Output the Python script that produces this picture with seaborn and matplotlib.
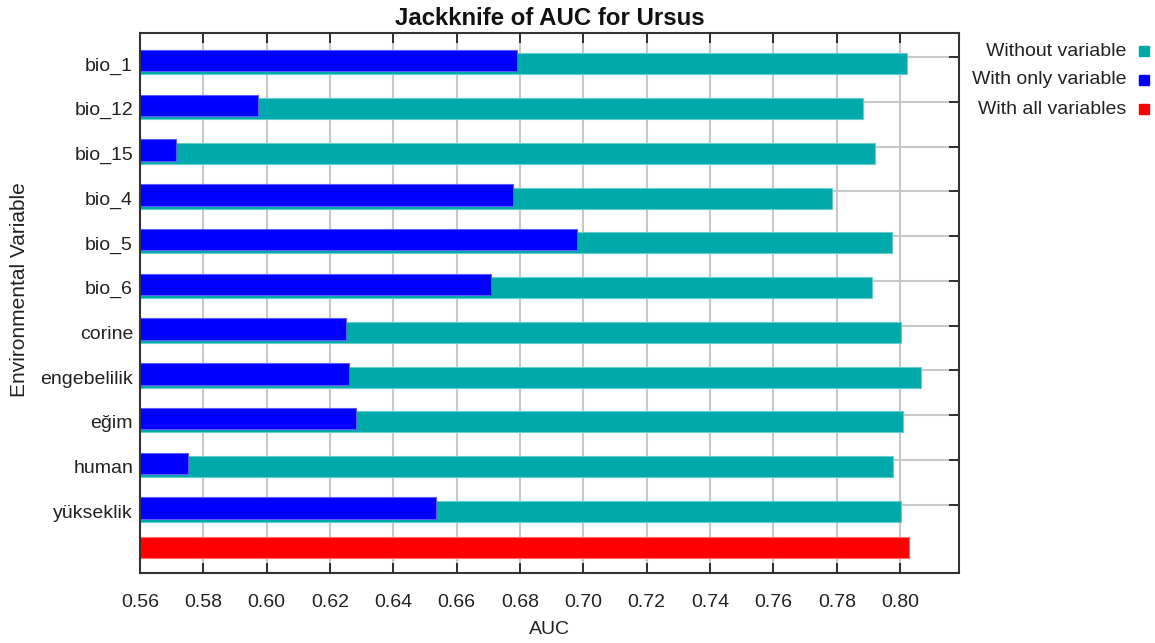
import numpy as np
import pandas as pd
import matplotlib
matplotlib.use("Agg")
import matplotlib.pyplot as plt
import seaborn as sns
from matplotlib.lines import Line2D

# ---------------- data ----------------
variables = ["bio_1", "bio_12", "bio_15", "bio_4", "bio_5", "bio_6",
             "corine", "engebelilik", "eğim", "human", "yükseklik"]
without_variable = [0.8021, 0.7884, 0.7921, 0.7785, 0.7975, 0.7911,
                    0.8002, 0.8066, 0.8008, 0.7977, 0.8002]
with_only_variable = [0.6790, 0.5973, 0.5714, 0.6777, 0.6981, 0.6707,
                      0.6251, 0.6261, 0.6282, 0.5752, 0.6535]
with_all_variables = [0.8029]
x_ticks = [0.56, 0.58, 0.60, 0.62, 0.64, 0.66, 0.68, 0.70, 0.72, 0.74, 0.76, 0.78, 0.80]
legend_labels = ["Without variable", "With only variable", "With all variables"]
title = "Jackknife of AUC for Ursus"
x_label = "AUC"
y_label = "Environmental Variable"

# ---------------- style ----------------
TEAL, BLUE, RED = "#00AAAA", "#0000FF", "#FF0000"
TEAL_E, BLUE_E, RED_E = "#66CCCC", "#5A5AFF", "#FF6A6A"
TXT = "#222222"

sns.set_style("white")
plt.rcParams["font.family"] = ["Liberation Sans", "DejaVu Sans"]

W, H = 1155, 643
fig = plt.figure(figsize=(W / 100, H / 100), dpi=100)
ax = fig.add_axes([140 / W, 1 - 573 / H, 819 / W, 540 / H])

order = variables + [""]
df = pd.DataFrame({"variable": variables,
                   "without": without_variable,
                   "only": with_only_variable})
df_all = pd.DataFrame({"variable": [""], "auc": with_all_variables})

n0 = len(ax.patches)
sns.barplot(data=df, x="without", y="variable", order=order, orient="h",
            color=TEAL, saturation=1, width=0.47, errorbar=None, ax=ax)
teal_patches = ax.patches[n0:]
n1 = len(ax.patches)
sns.barplot(data=df, x="only", y="variable", order=order, orient="h",
            color=BLUE, saturation=1, width=0.48, errorbar=None, ax=ax)
blue_patches = ax.patches[n1:]
n2 = len(ax.patches)
sns.barplot(data=df_all, x="auc", y="variable", order=order, orient="h",
            color=RED, saturation=1, width=0.47, errorbar=None, ax=ax)
red_patches = ax.patches[n2:]

for p in teal_patches:
    p.set_edgecolor(TEAL_E); p.set_linewidth(0.8)
for p in blue_patches:
    p.set_y(p.get_y() - 0.07)
    p.set_edgecolor(BLUE_E); p.set_linewidth(0.8)
for p in red_patches:
    p.set_y(p.get_y() - 0.2)
    p.set_edgecolor(RED_E); p.set_linewidth(0.8)

ax.set_xlim(0.56, 0.8186)
ax.set_ylim(11.38, -0.69)

# grid
ax.set_axisbelow(True)
ax.set_xticks(x_ticks)
ax.set_xticklabels([f"{t:.2f}" for t in x_ticks])
ax.grid(axis="x", which="major", color="#C8C8C8", linewidth=1.5)
ax.set_yticks(np.arange(len(variables)) - 0.148, minor=True)
ax.grid(axis="y", which="minor", color="#C8C8C8", linewidth=1.5)
ax.grid(axis="y", which="major", visible=False)

ax.tick_params(axis="y", which="major", length=0, pad=5, labelsize=14, labelcolor=TXT)
ax.tick_params(axis="y", which="minor", left=False, right=True, direction="in",
               length=7, width=1.3, color="#222222")
ax.tick_params(axis="x", which="major", direction="in", top=True, bottom=True,
               length=7, width=1.3, color="#222222", pad=15, labelsize=14, labelcolor=TXT)

for s in ax.spines.values():
    s.set_visible(True)
    s.set_color("#333333")
    s.set_linewidth(1.5)

ax.set_xlabel(x_label, fontsize=14, color=TXT, labelpad=7)
ax.set_ylabel(y_label, fontsize=15, color=TXT, labelpad=6)
ax.yaxis.set_label_coords(-0.136, 0.525)
ax.set_title(title, fontsize=17.3, fontweight="bold", color="#111111", pad=6)

# legend (right aligned labels with squares)
leg_colors = [TEAL, BLUE, RED]
for i, (lab, c) in enumerate(zip(legend_labels, leg_colors)):
    y = 1 - (51 + 29 * i) / H
    fig.text(1126 / W, y, lab, ha="right", va="center", fontsize=14, color=TXT)
    fig.add_artist(Line2D([1143.5 / W], [y], marker="s", markersize=6.5,
                          color=c, linestyle="none", transform=fig.transFigure))

fig.savefig("out.png", dpi=100)
